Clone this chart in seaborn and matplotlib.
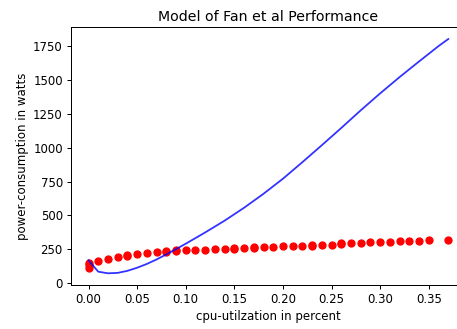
import matplotlib
matplotlib.use("Agg")
import matplotlib.pyplot as plt
import seaborn as sns

# Measured power draw (watts) against CPU utilisation
cpu_util = [0.00, 0.00, 0.00, 0.01, 0.02, 0.03, 0.04, 0.04, 0.05, 0.06, 0.07,
            0.08, 0.08, 0.09, 0.09, 0.10, 0.11, 0.12, 0.13, 0.14, 0.15, 0.15,
            0.16, 0.17, 0.17, 0.18, 0.19, 0.20, 0.21, 0.22, 0.23, 0.23, 0.24,
            0.25, 0.26, 0.26, 0.27, 0.28, 0.29, 0.30, 0.31, 0.32, 0.33, 0.34,
            0.35, 0.37]
power_watts = [152, 132, 112, 164, 181, 191, 200, 212, 215, 225, 228,
               232, 238, 238, 243, 244, 244, 249, 254, 254, 256, 262,
               262, 263, 269, 269, 269, 274, 275, 277, 276, 282, 279,
               282, 290, 297, 296, 298, 303, 306, 306, 311, 313, 313,
               323, 323]

# Fan et al. power model evaluated over the utilisation range
model_util = [0.00, 0.01, 0.02, 0.03, 0.04, 0.05, 0.06, 0.07, 0.08, 0.09,
              0.10, 0.12, 0.14, 0.16, 0.18, 0.20, 0.22, 0.24, 0.26, 0.28,
              0.30, 0.32, 0.34, 0.36, 0.37]
model_watts = [170, 86, 74, 77, 92, 115, 143, 176, 213, 252,
               292, 375, 462, 557, 660, 771, 893, 1018, 1145, 1275,
               1400, 1520, 1635, 1748, 1800]

plt.rcParams["font.size"] = 11.8

fig = plt.figure(figsize=(457 / 72, 329 / 72), dpi=72)
ax = fig.add_axes([0.1543, 0.1337, 0.866, 0.7833])

sns.scatterplot(x=cpu_util, y=power_watts, color="red", s=50,
                edgecolor="red", linewidth=1.2, ax=ax, zorder=2)
sns.lineplot(x=model_util, y=model_watts, color="blue", alpha=0.8,
             linewidth=1.8, sort=False, estimator=None, ax=ax, zorder=3)

ax.tick_params(width=1.0, length=4.2)
for spine in ax.spines.values():
    spine.set_linewidth(1.0)

ax.set_title("Model of Fan et al Performance")
ax.set_xlabel("cpu-utilzation in percent")
ax.set_ylabel("power-consumption in watts")

fig.savefig("out.png", dpi=72)
